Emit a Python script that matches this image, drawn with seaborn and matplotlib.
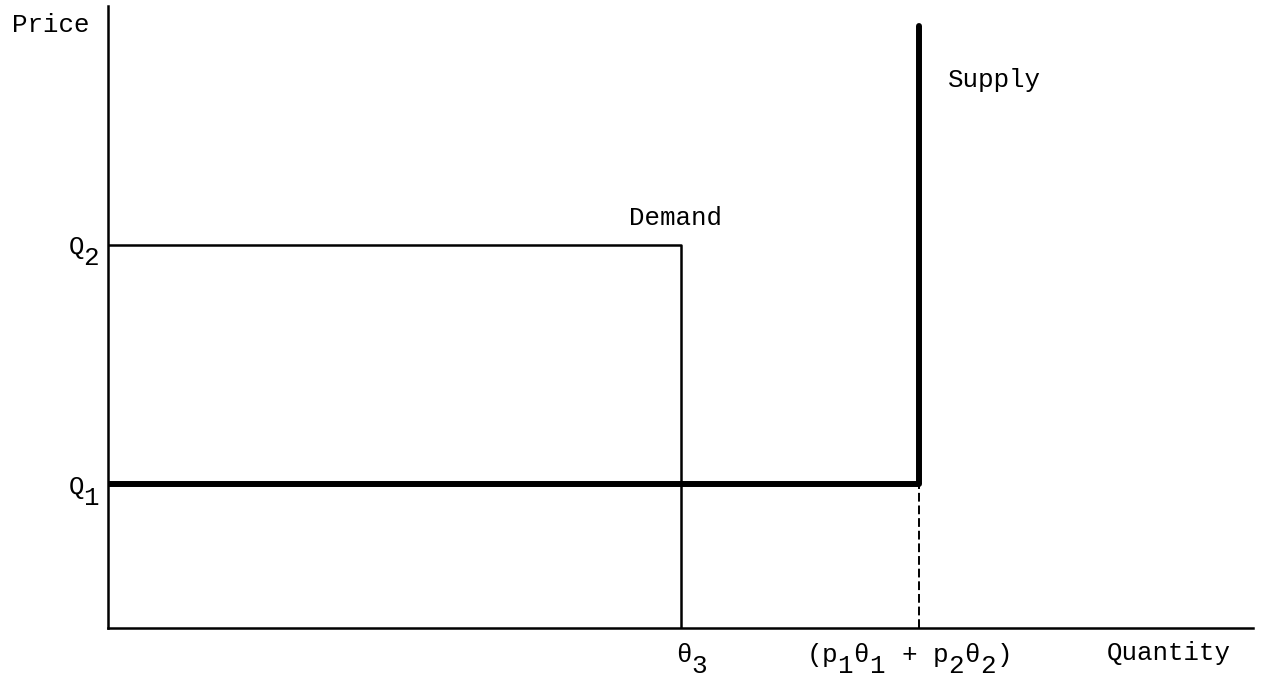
import matplotlib
matplotlib.use("Agg")
import matplotlib.pyplot as plt
import matplotlib._mathtext as mathtext_interno
from matplotlib.transforms import ScaledTranslation
import seaborn as sns
import pandas as pd

# ---- values (axis units 0..100) ----
price_levels = [23.1, 61.6]          # Q1, Q2
price_labels = ["Q$_1$", "Q$_2$"]
qty_levels = [50.0, 70.8]            # theta3, p1theta1 + p2theta2
qty_labels = ["θ$_3$", "(p$_1$θ$_1$ + p$_2$θ$_2$)"]
supply_top = 96.8

demand_x = [0, qty_levels[0], qty_levels[0]]
demand_y = [price_levels[1], price_levels[1], 0]
supply_x = [0, qty_levels[1], qty_levels[1]]
supply_y = [price_levels[0], price_levels[0], supply_top]
gap_x = [qty_levels[1], qty_levels[1]]
gap_y = [0, price_levels[0]]

# subindices a tamano completo y bien bajados, como en la maquina de escribir
mathtext_interno.SHRINK_FACTOR = 1.0
mathtext_interno.FontConstantsBase.sub1 = 0.8

sns.set_style("white")
plt.rcParams["font.family"] = ["Liberation Mono", "DejaVu Sans Mono"]
plt.rcParams["mathtext.fontset"] = "custom"
plt.rcParams["mathtext.rm"] = "Liberation Mono"
plt.rcParams["mathtext.it"] = "Liberation Mono"
plt.rcParams["mathtext.default"] = "regular"
plt.rcParams["text.color"] = "black"
plt.rcParams["xtick.labelcolor"] = "black"
plt.rcParams["ytick.labelcolor"] = "black"

FS = 18.6

fig = plt.figure(figsize=(12.66, 6.81), dpi=100)
ax = fig.add_axes([108 / 1266, 53 / 681, 1145 / 1266, 622 / 681])

demanda = pd.DataFrame({"q": demand_x, "p": demand_y})
oferta = pd.DataFrame({"q": supply_x, "p": supply_y})
hueco = pd.DataFrame({"q": gap_x, "p": gap_y})

sns.lineplot(data=demanda, x="q", y="p", sort=False, estimator=None,
             color="black", linewidth=1.8, ax=ax)
sns.lineplot(data=oferta, x="q", y="p", sort=False, estimator=None,
             color="black", linewidth=4.3, ax=ax)
sns.lineplot(data=hueco, x="q", y="p", sort=False, estimator=None,
             color="black", linewidth=1.4, linestyle=(0, (4.5, 2)), ax=ax)

ax.set_xlim(0, 100)
ax.set_ylim(0, 100)
ax.set_xlabel("")
ax.set_ylabel("")

for lado in ["top", "right"]:
    ax.spines[lado].set_visible(False)
for lado in ["left", "bottom"]:
    ax.spines[lado].set_linewidth(1.8)
    ax.spines[lado].set_color("black")

ax.set_yticks(price_levels)
ax.set_yticklabels(price_labels, fontsize=FS)
ax.set_xticks(qty_levels)
ax.set_xticklabels(qty_labels, fontsize=FS)
ax.tick_params(axis="y", length=0, pad=6, labelcolor="black")
ax.tick_params(axis="x", length=0, pad=10, labelcolor="black")

# pequenos desplazamientos de las etiquetas (en puntos)
for t in ax.get_yticklabels():
    t.set_verticalalignment("baseline")
    t.set_transform(t.get_transform() + ScaledTranslation(0, -7.2 / 72, fig.dpi_scale_trans))
desplaz_x = [8.0, -8.0]
for t, dx in zip(ax.get_xticklabels(), desplaz_x):
    t.set_transform(t.get_transform() + ScaledTranslation(dx / 72, 0, fig.dpi_scale_trans))

# etiquetas de ejes y curvas
ax.text(-0.084, 0.958, "Price", transform=ax.transAxes, fontsize=FS,
        ha="left", va="baseline", clip_on=False)
ax.text(0.8725, -0.0514, "Quantity", transform=ax.transAxes, fontsize=FS,
        ha="left", va="baseline", clip_on=False)
ax.annotate("Demand", xy=(qty_levels[0], price_levels[1]), xytext=(-37, 14.4),
            textcoords="offset points", fontsize=FS, ha="left", va="baseline")
ax.annotate("Supply", xy=(qty_levels[1], supply_top), xytext=(21, -44),
            textcoords="offset points", fontsize=FS, ha="left", va="baseline")

plt.savefig("out.png", dpi=100)
